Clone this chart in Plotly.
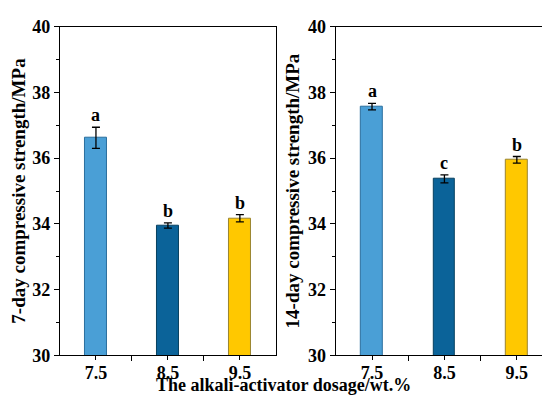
import plotly.graph_objects as go

categories = [7.5, 8.5, 9.5]
tick_labels = ["7.5", "8.5", "9.5"]
day7_values = [36.62, 33.95, 34.17]
day7_errors = [0.32, 0.08, 0.11]
day7_letters = ["a", "b", "b"]
day14_values = [37.57, 35.37, 35.95]
day14_errors = [0.10, 0.12, 0.10]
day14_letters = ["a", "c", "b"]
bar_colors = ["#4a9fd6", "#0b6399", "#ffc800"]
bar_lines = ["#2a6f9e", "#07405f", "#9a8430"]

FONT = "Liberation Serif"

fig = go.Figure()
panels = [("x", "y", day7_values, day7_errors, day7_letters),
          ("x2", "y2", day14_values, day14_errors, day14_letters)]
for xa, ya, vals, errs, letters in panels:
    fig.add_trace(go.Bar(
        x=categories, y=vals, xaxis=xa, yaxis=ya, width=0.3,
        marker=dict(color=bar_colors, line=dict(color=bar_lines, width=1)),
        error_y=dict(type="data", array=errs, color="black", thickness=1.3, width=4),
        showlegend=False,
    ))
    for c, v, e, t in zip(categories, vals, errs, letters):
        fig.add_annotation(x=c, y=v + e, xref=xa, yref=ya, text=f"<b>{t}</b>",
                           showarrow=False, yanchor="bottom", yshift=0,
                           font=dict(family=FONT, size=18, color="black"))

axis_common = dict(showline=True, linecolor="black", linewidth=1.2, mirror=True,
                   showgrid=False, zeroline=False, ticklabeloverflow="allow",
                   tickfont=dict(family=FONT, size=18, color="black"))
xcommon = dict(axis_common, range=[7, 10], tickvals=categories,
               ticktext=[f"<b>{t}</b>" for t in tick_labels],
               ticks="outside", ticklen=4, tickcolor="black", ticklabelstandoff=-3,
               minor=dict(tickvals=[8, 9], ticks="outside", ticklen=5, tickcolor="black"))
ycommon = dict(axis_common, range=[30, 40], tickvals=[30, 32, 34, 36, 38, 40],
               ticktext=["<b>30</b>", "<b>32</b>", "<b>34</b>", "<b>36</b>", "<b>38</b>", "<b>40</b>"],
               ticks="outside", ticklen=5, tickcolor="black",
               minor=dict(tickvals=[31, 33, 35, 37, 39], ticks="outside", ticklen=3, tickcolor="black"))

fig.update_layout(
    width=550, height=399,
    margin=dict(l=0, r=0, t=0, b=0),
    plot_bgcolor="white", paper_bgcolor="white",
    bargap=0,
    xaxis=dict(xcommon, domain=[0.0945, 0.487], anchor="y"),
    xaxis2=dict(xcommon, domain=[0.596, 0.991], anchor="y2"),
    yaxis=dict(ycommon, domain=[0.11, 0.977], anchor="x",
               title=dict(text="<b>7-day compressive strength/MPa</b>",
                          font=dict(family=FONT, size=19, color="black"), standoff=3)),
    yaxis2=dict(ycommon, domain=[0.11, 0.977], anchor="x2",
                title=dict(text="<b>14-day compressive strength/MPa</b>",
                           font=dict(family=FONT, size=19, color="black"), standoff=3)),
)
fig.add_annotation(x=0.5, y=0.0, xref="paper", yref="paper", yanchor="bottom",
                   yshift=0, text="<b>The alkali-activator dosage/wt.%</b>",
                   showarrow=False, font=dict(family=FONT, size=18, color="black"))

fig.write_html("out.html")
